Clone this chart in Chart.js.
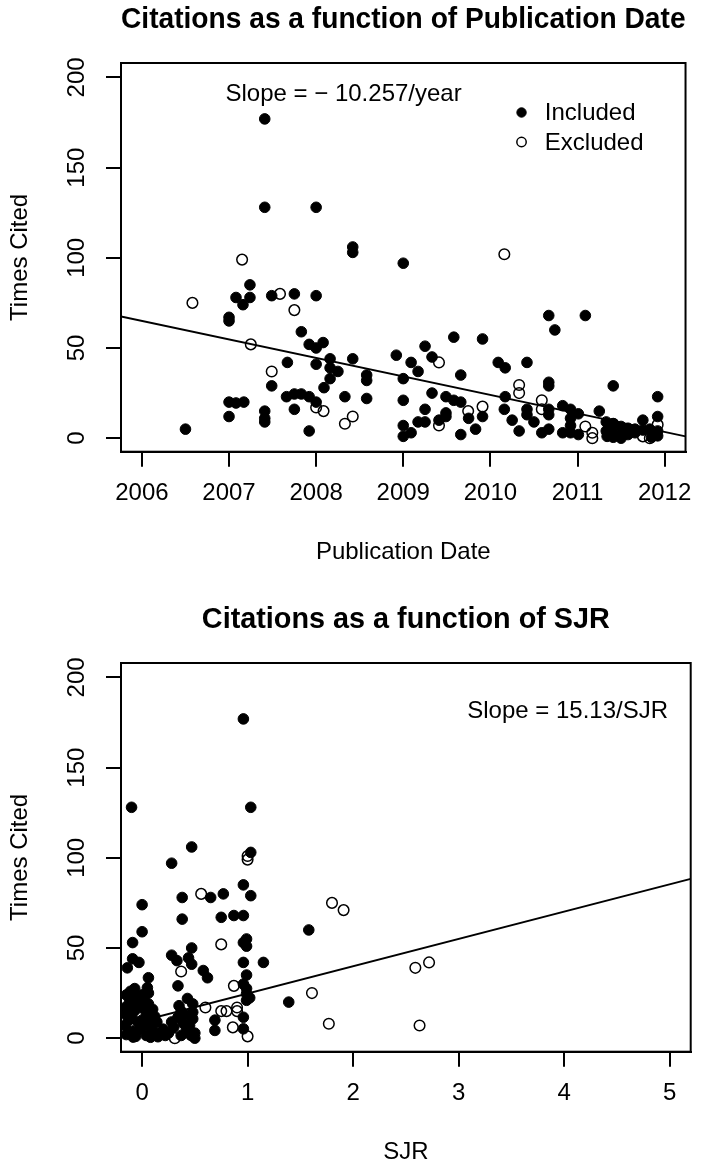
<!DOCTYPE html>
<html>
<head>
<meta charset="utf-8">
<script src="https://cdn.jsdelivr.net/npm/chart.js@4"></script>
<style>
html,body{margin:0;padding:0;background:#fff;overflow:hidden}
canvas{display:block}
</style>
</head>
<body>
<canvas id="grafica1" width="704" height="600"></canvas>
<canvas id="grafica2" width="704" height="574"></canvas>
<script>
// ---- datos: fecha de publicacion ----
let dateInc=[2007.41,2007.41,2008.00,2008.42,2008.42,2009.00,2007.24,2007.08,2007.16,2007.24,
  2007.49,2007.75,2007.00,2007.00,2007.83,2007.67,2007.49,2007.66,2007.75,2007.75,
  2007.00,2007.08,2007.17,2007.00,2007.41,2007.41,2007.41,2006.50,2008.00,2007.92,
  2008.00,2008.08,2008.00,2008.16,2008.16,2008.25,2008.16,2008.42,2008.58,2008.58,
  2008.09,2007.83,2007.92,2008.00,2008.33,2008.58,2007.92,2008.92,2009.00,2009.00,
  2009.00,2009.00,2009.09,2009.09,2009.17,2009.25,2009.33,2009.25,2009.33,2009.17,
  2009.25,2009.41,2009.49,2009.49,2009.49,2009.58,2009.58,2009.66,2009.66,2009.66,
  2009.75,2009.83,2009.91,2009.91,2010.67,2011.09,2010.74,2010.09,2010.17,2010.42,
  2010.67,2010.67,2011.41,2011.92,2010.17,2010.16,2010.25,2010.33,2010.42,2010.42,
  2010.50,2010.67,2010.67,2010.59,2010.67,2010.83,2010.83,2010.92,2010.92,2010.92,
  2010.92,2011.01,2011.01,2011.25,2011.33,2011.33,2011.41,2011.41,2011.41,2011.50,
  2011.50,2011.50,2011.58,2011.58,2011.66,2011.66,2011.75,2011.75,2011.83,2011.92,
  2011.92,2011.92,2011.85,2011.34];
let citesInc=[177,128,128,106,103,97,85,78,74,78,
  79,80,67,65,59,42,29,23,24.5,16,
  20,19.5,20,12,15,11,9,5,79,52,
  50,53,41,44,39,37,33,44,35,32,
  28,24.5,23,20,23,22,4,46,33,21,
  7,1,3,42,37,51,45,16,25,9,
  9,10,14,12,23,56,21,20,2,35,
  11,5,55,12,68,68,60,42,39,42,
  31,29,29,23,23,16,10,4,16,13,
  9,16,13,3,5,18,3,16,11,7,
  3,13.5,2,15,9,4,8,3,0.5,6.5,
  2,0,5.5,2,5,3,10,4.5,5,12,
  4,1.3,0.5,1];
let dateExc=[2006.58,2007.15,2007.25,2007.585,2007.75,2007.49,2008.00,2008.085,2008.42,2008.33,
  2009.41,2009.41,2009.745,2009.91,2010.16,2010.33,2010.33,2010.59,2010.59,2011.09,
  2011.17,2011.17,2011.41,2011.75,2011.83,2011.92];
let citesExc=[75,99,52,80,71,37,17,15,12,8,
  42,7,15,17.5,102,29.5,25,21,16,6.5,
  3,0,8,1,0,7.5];
let lineDateX=[2005.76,2012.24];
let lineDateY=[67.4,1.0];
let dateTicks=[2006,2007,2008,2009,2010,2011,2012];

// ---- datos: SJR ----
let sjrInc=[0.96,-0.10,1.03,0.47,1.03,0.28,0.00,0.38,0.65,0.77,
  0.96,1.03,0.38,0.75,0.87,0.96,0.00,-0.09,0.47,0.99,
  0.99,0.96,-0.09,-0.03,-0.14,0.28,0.33,0.44,0.47,0.58,
  0.62,0.96,1.15,0.06,0.34,0.99,0.96,0.99,-0.15,-0.07,
  -0.07,0.00,0.06,0.06,-0.16,-0.16,-0.07,0.00,0.04,-0.16,
  -0.085,0.00,0.04,0.09,-0.085,0.14,0.12,0.18,0.25,0.28,
  0.34,0.37,0.41,0.48,0.48,0.48,0.39,0.37,0.42,0.50,
  0.50,0.69,0.69,0.96,0.96,0.99,1.02,0.99,1.39,1.58,
  -0.12,-0.05,0.02,0.10,-0.13,-0.04,0.06,0.10,-0.15,-0.02,
  0.03,-0.10,0.12,-0.06,0.08,0.20,0.30,0.45,0.35,0.43,
  0.22,0.46,0.15,0.05,-0.11];
let citesSjrInc=[177,128,128,106,103,97,74,78,78,80,
  85,79,66,67,68,68,59,53,50,55,
  51,53,44,42,39,46,43,44.5,41,37.5,
  33.5,42,42,33.5,29,35,30,27.5,24,27.5,
  22.7,24,25,19,17,13.5,15.3,17,13.5,7,
  4,10,1.5,6,0.6,9,3.3,2.8,2.8,9,
  11.6,15,13,19,14.4,10.7,8.3,1.5,4.7,2.8,
  0,10,4.3,5.2,11.6,21,22.4,24.6,20,60,
  20,19,21,16,10,9,11,3,2,5,
  7,12.5,12,1,0.5,5,6,7,18,22,
  1.5,2,0.8,28,26];
let sjrExc=[0.56,1.00,1.00,0.75,0.37,0.87,-0.15,0.31,0.47,0.60,
  0.75,0.80,0.90,0.90,0.86,1.00,1.80,1.91,2.59,2.72,
  1.61,1.77,2.63];
let citesSjrExc=[80,101,99,52,37,29,11,0,1.5,17,
  15,15,15,17,6,1,75,71,39,42,
  25,8,7];
let lineSjrX=[-0.2,5.2];
let lineSjrY=[6.6,88.3];
let sjrTicks=[0,1,2,3,4,5];

let citeTicks=[0,50,100,150,200];

Chart.defaults.font.family='"Liberation Sans", Arial, Helvetica, sans-serif';
Chart.defaults.font.size=24;
Chart.defaults.color='#000';

// caja del area de grafico (px dentro de cada canvas)
const AREA={left:121,right:690.7,top:63,bottom:451.7};

function pares(xs,ys){ return xs.map((x,i)=>({x:x,y:ys[i]})); }

// marco alrededor del area de datos
const marco={
  id:'marco',
  afterDatasetsDraw(chart){
    const a=chart.chartArea, c=chart.ctx;
    c.save();
    c.strokeStyle='#000'; c.lineWidth=2;
    c.strokeRect(a.left,a.top,a.right-a.left,a.bottom-a.top);
    c.restore();
  }
};

// texto de pendiente y leyenda
const notas={
  id:'notas',
  afterDraw(chart,args,o){
    const a=chart.chartArea, c=chart.ctx;
    c.save();
    c.font='24px "Liberation Sans", Arial, sans-serif';
    c.fillStyle='#000';
    c.textBaseline='middle';
    if(o.slopeAlign==='left'){
      c.textAlign='left';
      c.fillText(o.slope,a.left+o.dx,a.top+o.dy);
    }else{
      c.textAlign='right';
      c.fillText(o.slope,a.right-o.dx,a.top+o.dy);
    }
    if(o.legend){
      const ds=chart.data.datasets;
      [0,1].forEach(i=>{
        const d=ds[i], y=a.top+49.5+i*29.5, x=a.right-164;
        c.beginPath();
        c.arc(x,y,d.pointRadius-0.6,0,Math.PI*2);
        c.fillStyle=d.backgroundColor; c.fill();
        c.lineWidth=d.pointBorderWidth; c.strokeStyle=d.borderColor; c.stroke();
        c.fillStyle='#000'; c.textAlign='left';
        c.fillText(d.label,a.right-140.7,y+1);
      });
    }
    c.restore();
  }
};

function panel(id,H,cfg){
  return new Chart(document.getElementById(id).getContext('2d'),{
    type:'scatter',
    data:{
      datasets:[
        {label:'Included',data:pares(cfg.xInc,cfg.yInc),pointRadius:5.3,pointBorderWidth:1,
         backgroundColor:'#000',borderColor:'#000',order:3},
        {label:'Excluded',data:pares(cfg.xExc,cfg.yExc),pointRadius:5.3,pointBorderWidth:1.5,
         backgroundColor:'rgba(0,0,0,0)',borderColor:'#000',order:2},
        {label:'fit',data:pares(cfg.xLine,cfg.yLine),showLine:true,pointRadius:0,
         borderColor:'#000',borderWidth:2,order:1}
      ]
    },
    options:{
      responsive:false,
      animation:false,
      events:[],
      layout:{padding:{left:0,right:704-AREA.right,top:0,bottom:0}},
      plugins:{
        legend:{display:false},
        tooltip:{enabled:false},
        title:{display:true,text:cfg.title,fullSize:false,
          font:{size:28.8,weight:'bold',lineHeight:1.2},
          padding:{top:2.5,bottom:AREA.top-2.5-34.56}},
        notas:cfg.notas
      },
      scales:{
        x:{
          type:'linear',min:cfg.xMin,max:cfg.xMax,
          afterBuildTicks:s=>{ s.ticks=cfg.xTicks.map(v=>({value:v})); },
          afterFit:s=>{ s.height=H-AREA.bottom; },
          ticks:{callback:v=>String(v),padding:12,autoSkip:false,maxRotation:0,font:{lineHeight:1.2}},
          grid:{drawOnChartArea:false,drawTicks:true,tickLength:15,color:'#000',lineWidth:2},
          border:{display:true,color:'#000',width:2},
          title:{display:true,text:cfg.xTitle,font:{lineHeight:1.2},padding:{top:0,bottom:H-14.4-552.4}}
        },
        y:{
          type:'linear',min:-7.5,max:208,
          afterBuildTicks:s=>{ s.ticks=citeTicks.map(v=>({value:v})); },
          afterFit:s=>{ s.width=AREA.left; },
          ticks:{callback:v=>String(v),minRotation:90,maxRotation:90,crossAlign:'center',padding:9,autoSkip:false},
          grid:{drawOnChartArea:false,drawTicks:true,tickLength:15,color:'#000',lineWidth:2},
          border:{display:true,color:'#000',width:2},
          title:{display:true,text:'Times Cited',font:{lineHeight:1.2},padding:{top:5.8,bottom:0}}
        }
      }
    },
    plugins:[marco,notas]
  });
}

panel('grafica1',600,{
  title:'Citations as a function of Publication Date',
  xTitle:'Publication Date',
  xInc:dateInc,yInc:citesInc,xExc:dateExc,yExc:citesExc,
  xLine:lineDateX,yLine:lineDateY,
  xMin:2005.76,xMax:2012.24,xTicks:dateTicks,
  notas:{slope:'Slope = \u2212 10.257/year',slopeAlign:'left',dx:104.5,dy:31,legend:true}
});

panel('grafica2',574,{
  title:'Citations as a function of SJR',
  xTitle:'SJR',
  xInc:sjrInc,yInc:citesSjrInc,xExc:sjrExc,yExc:citesSjrExc,
  xLine:lineSjrX,yLine:lineSjrY,
  xMin:-0.2,xMax:5.2,xTicks:sjrTicks,
  notas:{slope:'Slope = 15.13/SJR',slopeAlign:'right',dx:22.7,dy:48,legend:false}
});
</script>
</body>
</html>
